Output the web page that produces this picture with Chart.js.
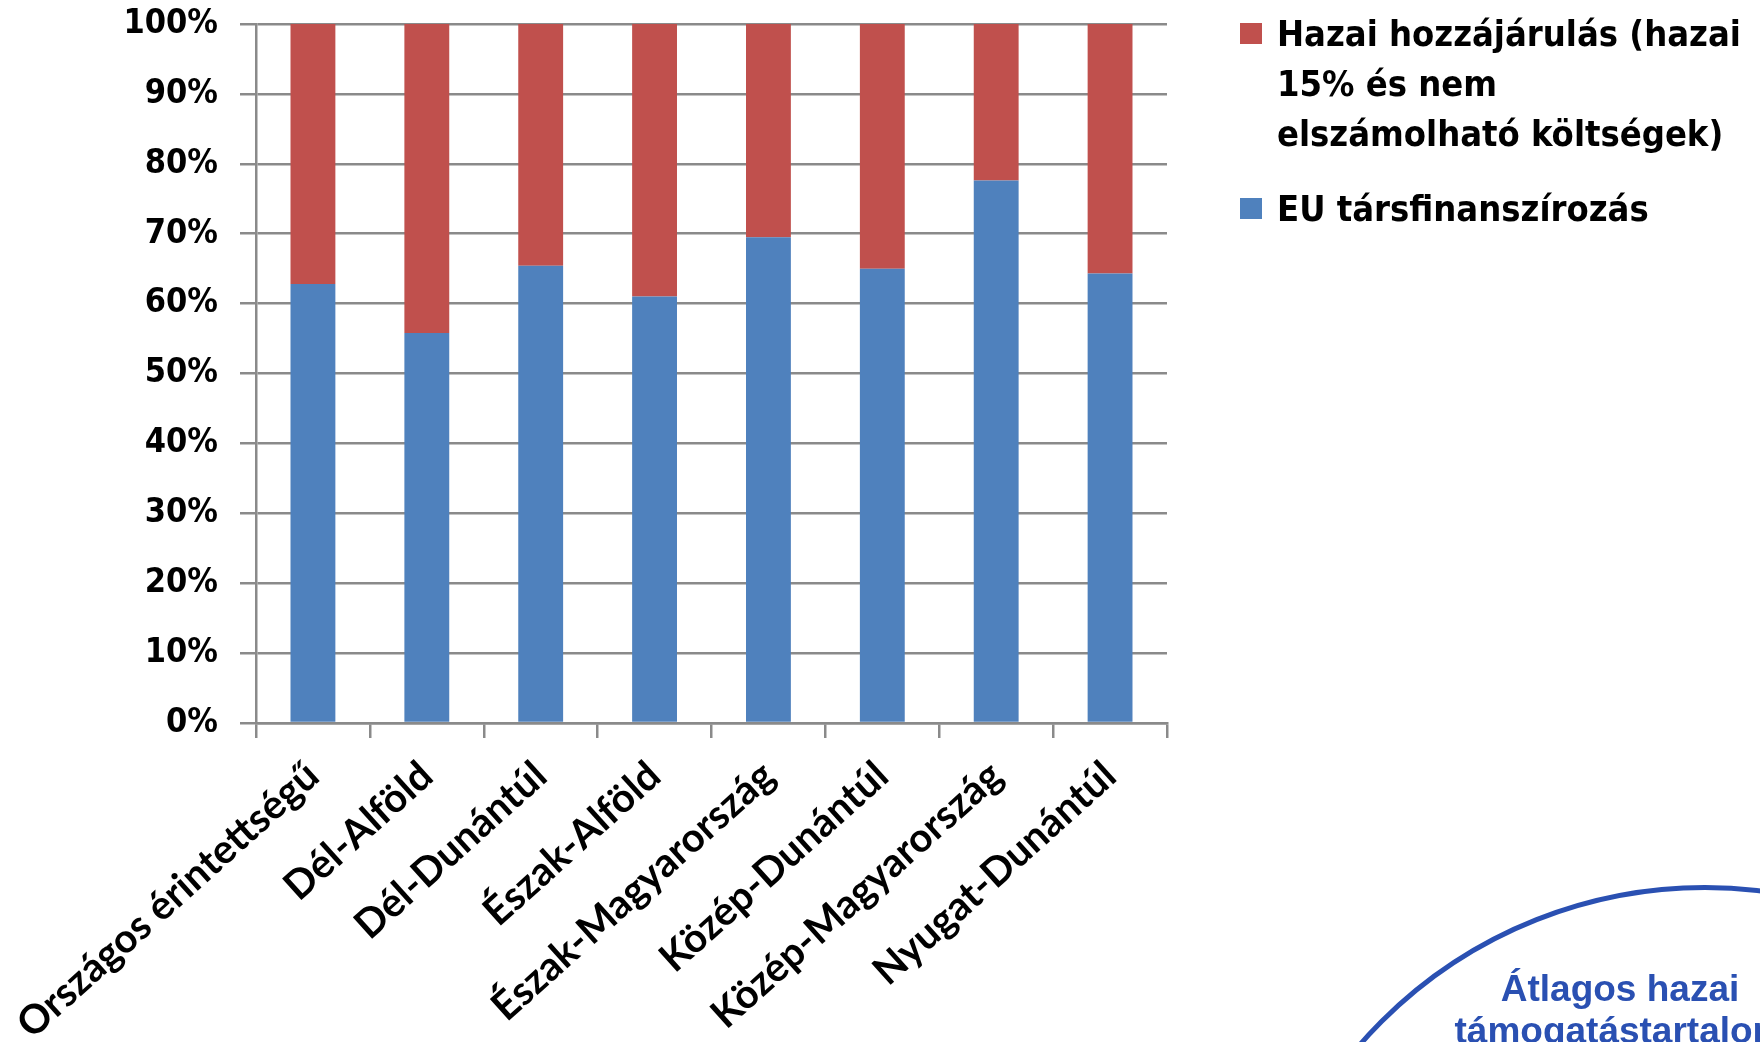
<!DOCTYPE html>
<html><head><meta charset="utf-8">
<script src="https://cdn.jsdelivr.net/npm/chart.js@4.4.1/dist/chart.umd.min.js"></script>
<style>
html,body{margin:0;padding:0;background:#fff;width:1760px;height:1042px;overflow:hidden}
#wrap{position:relative;width:1760px;height:1042px;overflow:hidden}
#c{position:absolute;left:0;top:0}
.legItem{position:absolute;left:1240px;font-family:"DejaVu Sans Condensed","DejaVu Sans",sans-serif;font-weight:bold;font-size:36px;line-height:50px;color:#000;white-space:nowrap}
.legItem .mk{position:absolute;left:0;top:14px;width:22px;height:21px}
.legItem .tx{position:absolute;left:37px;top:0}
#circle{position:absolute;left:1245px;top:885px;width:920px;height:920px;border:5.5px solid #2A50B2;border-radius:50%;box-sizing:border-box}
#ctext{position:absolute;left:1320px;width:600px;top:968px;text-align:center;font-family:"Liberation Sans",Arial,sans-serif;font-weight:bold;font-size:37px;line-height:42px;color:#2A50B2;white-space:nowrap}
</style>
</head><body>
<div id="wrap">
<canvas id="c" width="1760" height="1042"></canvas>
<div id="legend"></div>
<div id="circle"></div>
<div id="ctext">Átlagos hazai<br>támogatástartalom</div>
</div>
<script>
const categories = ["Országos érintettségű","Dél-Alföld","Dél-Dunántúl","Észak-Alföld","Észak-Magyarország","Közép-Dunántúl","Közép-Magyarország","Nyugat-Dunántúl"];
const euShare = [62.8, 55.8, 65.4, 61.0, 69.5, 65.0, 77.6, 64.3];
const hazaiShare = [37.2, 44.2, 34.6, 39.0, 30.5, 35.0, 22.4, 35.7];
const euLabel = "EU társfinanszírozás";
const hazaiLabelLines = ["Hazai hozzájárulás (hazai", "15% és nem", "elszámolható költségek)"];
const euColor = "#4F81BD";
const hazaiColor = "#C0504D";
const gridColor = "#8A8A8A";

// HTML legend (order as in reference)
const legendItems = [
  {lines: hazaiLabelLines, color: hazaiColor, top: 9},
  {lines: [euLabel], color: euColor, top: 184}
];
const legEl = document.getElementById('legend');
legendItems.forEach(it => {
  const d = document.createElement('div');
  d.className = 'legItem';
  d.style.top = it.top + 'px';
  const mk = document.createElement('div');
  mk.className = 'mk'; mk.style.background = it.color;
  const tx = document.createElement('div');
  tx.className = 'tx';
  it.lines.forEach((l, i) => { if (i) tx.appendChild(document.createElement('br')); tx.appendChild(document.createTextNode(l)); });
  d.appendChild(mk); d.appendChild(tx);
  legEl.appendChild(d);
});

Chart.defaults.animation = false;
new Chart(document.getElementById('c'), {
  type: 'bar',
  data: {
    labels: categories,
    datasets: [
      {label: euLabel, data: euShare, backgroundColor: euColor, borderWidth: 0, barPercentage: 0.394, categoryPercentage: 1},
      {label: hazaiLabelLines.join(' '), data: hazaiShare, backgroundColor: hazaiColor, borderWidth: 0, barPercentage: 0.394, categoryPercentage: 1}
    ]
  },
  options: {
    responsive: false,
    devicePixelRatio: 1,
    layout: {padding: {top: 24, right: 593, left: 0, bottom: 0}},
    plugins: {legend: {display: false}, tooltip: {enabled: false}},
    scales: {
      x: {
        stacked: true,
        afterFit: s => { s.height = 319; s.paddingLeft = 0; s.paddingRight = 0; },
        grid: {drawOnChartArea: false, drawTicks: true, tickLength: 15, color: gridColor, lineWidth: 2.5, offset: true},
        border: {display: true, color: gridColor, width: 2.5},
        ticks: {autoSkip: false, maxRotation: 42, minRotation: 42, padding: 14, color: '#000',
                font: {family: 'Lato', weight: 'bold', size: 40}}
      },
      y: {
        stacked: true, min: 0, max: 100,
        afterFit: s => { s.width = 256; s.paddingTop = 0; s.paddingBottom = 0; },
        grid: {color: gridColor, lineWidth: 2.5, drawTicks: true, tickLength: 16},
        border: {display: true, color: gridColor, width: 2.5},
        ticks: {stepSize: 10, padding: 22, color: '#000', callback: v => v + '%',
                font: {family: '"DejaVu Sans Condensed", "DejaVu Sans"', weight: 'bold', size: 34}}
      }
    }
  }
});
</script>
</body></html>
